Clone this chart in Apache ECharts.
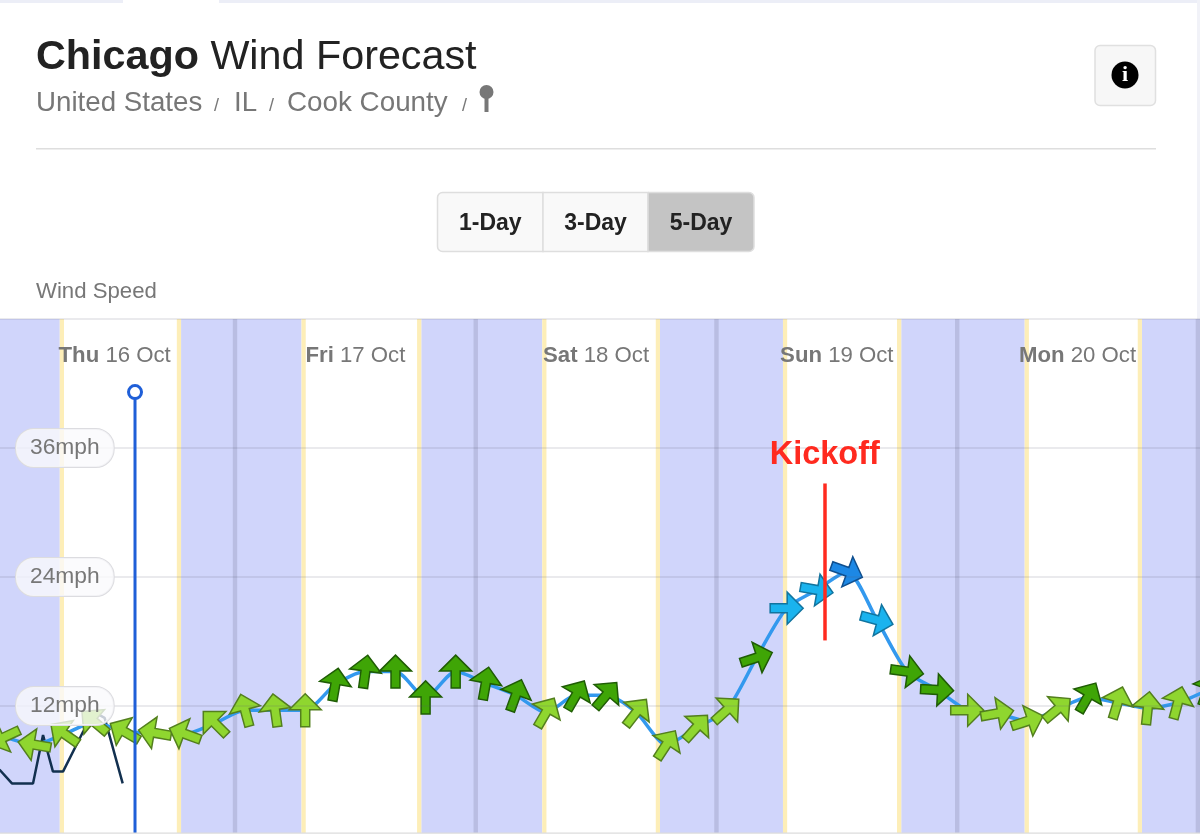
<!DOCTYPE html>
<html><head><meta charset="utf-8">
<style>html,body{margin:0;padding:0;background:#fff}#c{width:1200px;height:836px}</style>
<script src="https://cdn.jsdelivr.net/npm/echarts@6/dist/echarts.min.js"></script>
</head><body><div id="c"></div>
<script>
// Forecast (hours since Thu 00:00)
const forecastHours = [-2,1,4,7,10,13,16,19,22,25,28,31,34,37,40,43,46,49,52,55,58,61,64,67,70,73,76,79,82,85,88,91,94,97,100,103,106,109,112,115,118,121];
const windSpeed = [9.8,9.1,8.4,9.4,10.5,9.6,9.5,9.4,10.4,11.6,11.6,11.6,14.0,15.2,15.2,12.8,15.2,14.1,13.0,11.4,13.0,13.0,11.4,8.4,10.0,11.6,16.5,21.1,22.8,24.5,20.0,15.2,13.5,11.6,11.3,10.6,11.7,12.8,12.3,11.8,12.3,13.5];
const windBearing = [250,245,280,305,310,300,280,290,315,345,352,0,10,8,0,0,0,10,20,30,30,40,38,33,42,48,72,90,100,110,105,98,93,90,80,72,50,30,17,6,15,20];
// Observed wind
const observedHours = [-0.5,0.6,1.76,3.86,4.86,5.85,6.85,8.85,10,11,12.8];
const observedSpeed = [6.8,6.0,4.8,4.8,9.3,5.9,5.9,9.6,11.4,10.9,4.8];
// Day structure
const dayCentres = [12,36,60,84,108];
const dayNames = ['Thu','Fri','Sat','Sun','Mon'];
const dayDates = ['16 Oct','17 Oct','18 Oct','19 Oct','20 Oct'];
const sunrise = [6.95,31.05,55.05,79.05,103.15];
const sunset = [18.2,42.15,65.95,90.0,114.0];
const midnights = [24,48,72,96,120];
const yTicks = [12,24,36];
const nowHour = 14.03, nowTop = 41.2;
const kickoffHour = 82.8, kickoffRange = [32.7,18.1];
const X_MIN = -3, X_MAX = 123;

const TW = 0.42, MID = 0.22;
const ARROW = 'path://M16 0 L32 16 L20.5 16 L20.5 33 L11.5 33 L11.5 16 L0 16 Z';
function arrowStyle(v){
  const s = v>=24 ? ['#1d88e5','#0f4f8f'] : v>=20 ? ['#1ab3ee','#11749f'] : v>=12.5 ? ['#3fa506','#1f5c05'] : ['#8fd62f','#537f1e'];
  return {color:s[0],borderColor:s[1],borderWidth:1.5,opacity:1};
}
const nights = [[X_MIN,sunrise[0]-TW]];
for(let i=0;i<sunset.length;i++){
  nights.push([sunset[i]+TW, i+1<sunrise.length? sunrise[i+1]-TW : X_MAX]);
}
const twilights = [];
sunrise.forEach(h=>twilights.push([h-TW,h]));
sunset.forEach(h=>twilights.push([h,h+TW]));
const area = r => [{xAxis:r[0]},{xAxis:r[1]}];

function helper(name,color,ranges,z){
  return {name,type:'line',data:[],silent:true,
    markArea:{silent:true,z,itemStyle:{color,opacity:1},data:ranges.map(area)}};
}
const grey='#777777', dark='#222222';
function txt(x,y,t,size,color,extra){
  return {type:'text',x,y,silent:true,style:Object.assign({text:t,fontSize:size,fill:color,fontFamily:'"Liberation Sans"',verticalAlign:'middle'},extra||{})};
}
function btn(x,w,t,fill,r){
  return [{type:'rect',silent:true,shape:{x,y:192.5,width:w,height:59,r},style:{fill,stroke:'#dedede',lineWidth:1.5}},
    txt(x+w/2,223.5,t,23,dark,{fontWeight:'bold',align:'center'})];
}
const chart = echarts.init(document.getElementById('c'),null,{renderer:'canvas'});
chart.setOption({
  animation:false,
  backgroundColor:'#ffffff',
  textStyle:{fontFamily:'"Liberation Sans"'},
  title:{left:36,top:37,padding:0,text:'{b|Chicago}{n| Wind Forecast}',
    textStyle:{rich:{b:{fontSize:41.3,fontWeight:'bold',color:dark,fontFamily:'"Liberation Sans"'},
                     n:{fontSize:41.3,fontWeight:'normal',color:dark,fontFamily:'"Liberation Sans"'}}}},
  grid:{left:-35.8,width:1263.8,top:319,height:516,containLabel:false,outerBoundsMode:'none'},
  xAxis:{type:'value',position:'top',min:X_MIN,max:X_MAX,z:7,
    axisLine:{show:false},axisTick:{show:false},splitLine:{show:false},
    axisLabel:{inside:true,margin:26,customValues:dayCentres,
      formatter:v=>{const i=dayCentres.indexOf(v);return '{b|'+dayNames[i]+'}{n| '+dayDates[i]+'}';},
      rich:{b:{fontSize:22.2,fontWeight:'bold',color:grey,fontFamily:'"Liberation Sans"'},
            n:{fontSize:22.2,fontWeight:'normal',color:grey,fontFamily:'"Liberation Sans"'}}}},
  yAxis:{type:'value',min:0,max:48,interval:12,z:7,
    axisLine:{show:false},axisTick:{show:false},
    splitLine:{show:true,lineStyle:{color:'rgba(90,90,110,0.17)',width:1.5}},
    axisLabel:{inside:true,margin:51.8,customValues:yTicks,formatter:'{value}mph',
      color:grey,fontSize:22.8,fontFamily:'"Liberation Sans"',
      backgroundColor:'rgba(250,250,252,0.78)',borderColor:'#dcdce0',borderWidth:1,
      borderRadius:18,padding:[8,14,7,14]}},
  series:[
    helper('Night','#d0d5fb',nights,1),
    helper('Twilight','#fdeeb8',twilights,2),
    helper('Midnight','#b9bde2',midnights.map(h=>[h-MID,h+MID]),3),
    {name:'Observed',type:'line',z:4,showSymbol:false,symbol:'none',
     data:observedHours.map((h,i)=>[h,observedSpeed[i]]),
     lineStyle:{color:'#12304f',width:2.5}},
    {name:'Forecast',type:'line',z:5,symbol:'none',smooth:0.25,
     data:forecastHours.map((h,i)=>[h,windSpeed[i]]),
     lineStyle:{color:'#3399ee',width:3.5}},
    {name:'Wind direction',type:'scatter',z:6,symbol:ARROW,symbolSize:[32,33],clip:true,
     data:forecastHours.map((h,i)=>({value:[h,windSpeed[i]],symbolRotate:-windBearing[i],itemStyle:arrowStyle(windSpeed[i])}))},
    {name:'Now',type:'line',z:8,silent:true,
     data:[{value:[nowHour,0],symbol:'none'},{value:[nowHour,nowTop],symbol:'circle',symbolSize:13}],
     lineStyle:{color:'#1f5fd8',width:3},
     itemStyle:{color:'#ffffff',borderColor:'#1f5fd8',borderWidth:3}},
    {name:'Kickoff',type:'line',data:[],silent:true,
     markLine:{silent:true,z:9,symbol:'none',animation:false,
       lineStyle:{color:'#ff2a1f',width:3.5,type:'solid'},
       label:{show:true,position:'start',formatter:'Kickoff',distance:12,color:'#ff2a1f',fontSize:32.5,fontWeight:'bold',fontFamily:'"Liberation Sans"'},
       data:[[{coord:[kickoffHour,kickoffRange[0]]},{coord:[kickoffHour,kickoffRange[1]]}]]}}
  ],
  graphic:{elements:[
    {type:'rect',silent:true,shape:{x:0,y:0,width:123,height:3},style:{fill:'#eceef7'}},
    {type:'rect',silent:true,shape:{x:219,y:0,width:981,height:3},style:{fill:'#eceef7'}},
    {type:'rect',silent:true,shape:{x:1197,y:0,width:3,height:319},style:{fill:'#f1f2f8'}},
    txt(36,103,'United States',27.7,grey),
    txt(214,106,'/',18,grey),
    txt(234,103,'IL',27.7,grey),
    txt(269,106,'/',18,grey),
    txt(287,103,'Cook County',27.8,grey),
    txt(462,106,'/',18,grey),
    {type:'circle',silent:true,shape:{cx:486.5,cy:92,r:7},style:{fill:grey}},
    {type:'rect',silent:true,shape:{x:484.5,y:92,width:4,height:20},style:{fill:grey}},
    {type:'rect',silent:true,shape:{x:36,y:148,width:1120,height:1.5},style:{fill:'#dedede'}},
    ...btn(437.5,105.5,'1-Day','#f9f9f9',[5,0,0,5]),
    ...btn(543,105,'3-Day','#f9f9f9',0),
    ...btn(648,106,'5-Day','#c4c4c4',[0,5,5,0]),
    {type:'rect',silent:true,shape:{x:1095,y:45.5,width:60.5,height:60,r:5},style:{fill:'#f7f7f7',stroke:'#e0e0e0',lineWidth:1.5}},
    {type:'circle',silent:true,shape:{cx:1125,cy:75,r:13.5},style:{fill:'#000000'}},
    {type:'text',x:1125,y:75,silent:true,style:{text:'i',fontSize:22,fontWeight:'bold',fontFamily:'"Liberation Serif"',fill:'#ffffff',align:'center',verticalAlign:'middle'}},
    txt(36,292,'Wind Speed',22.2,grey),
    {type:'rect',silent:true,z:20,shape:{x:0,y:833,width:1200,height:3},style:{fill:'#ffffff'}},
    {type:'rect',silent:true,z:21,shape:{x:0,y:832.5,width:1200,height:1.2},style:{fill:'#dcdcdc'}}
  ]}
});
</script></body></html>
